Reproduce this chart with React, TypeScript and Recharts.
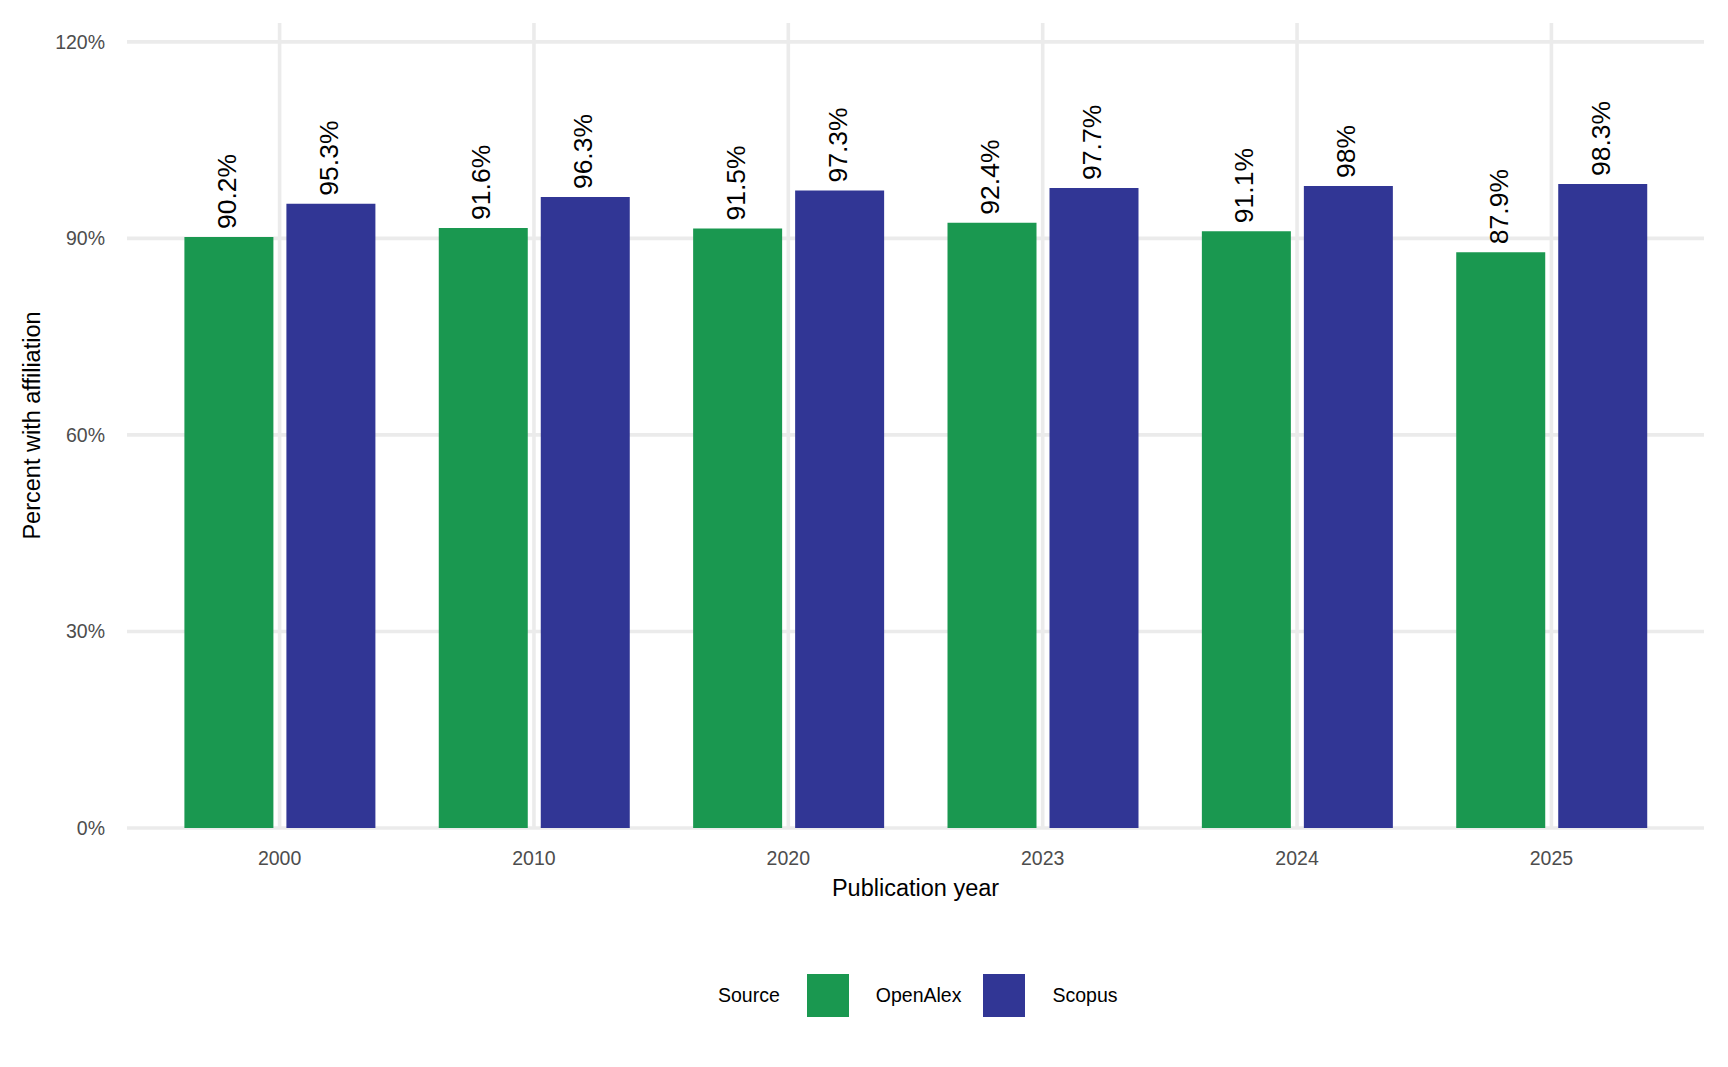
import { Fragment } from 'react'
import { Bar, BarChart, CartesianGrid, Label, LabelList, Legend, XAxis, YAxis } from 'recharts'

const years = ['2000', '2010', '2020', '2023', '2024', '2025']
const openAlex = [90.2, 91.6, 91.5, 92.4, 91.1, 87.9]
const scopus = [95.3, 96.3, 97.3, 97.7, 98, 98.3]
const yTicks = [0, 30, 60, 90, 120]
const sources = ['OpenAlex', 'Scopus']
const colors = ['#1A9850', '#313695']

const data = years.map((year, i) => ({ year, OpenAlex: openAlex[i], Scopus: scopus[i] }))
// ggplot-like headroom above the tallest bar
const yMax = Math.max(...openAlex, ...scopus) * 1.25

const FONT = '"Liberation Sans", Arial, Helvetica, sans-serif'

function BarLabel(props: any) {
  const { x, y, width, value } = props
  const px = Number(x) + Number(width) / 2 + 7
  const py = Number(y) - 8
  return (
    <text
      x={px}
      y={py}
      transform={`rotate(-90 ${px} ${py})`}
      textAnchor="start"
      fontSize={26.5}
      fontFamily={FONT}
      fill="#000"
    >
      {`${value}%`}
    </text>
  )
}

function SourceLegend({ payload }: any) {
  const items = payload ?? []
  return (
    <div
      style={{
        display: 'flex',
        alignItems: 'center',
        height: 43,
        fontFamily: FONT,
        fontSize: 19.5,
        color: '#000',
        whiteSpace: 'nowrap',
      }}
    >
      <span style={{ marginRight: 27 }}>Source</span>
      {items.map((item: any, i: number) => (
        <Fragment key={item.value}>
          <span style={{ display: 'inline-block', width: 42, height: 43, background: item.color, marginRight: 27 }} />
          <span style={{ marginRight: i === 0 ? 22 : 0 }}>{item.value}</span>
        </Fragment>
      ))}
    </div>
  )
}

export default function App() {
  return (
    <div style={{ position: 'absolute', left: 0, top: 0, width: 1728, height: 1067, background: '#fff' }}>
      <BarChart
        width={1728}
        height={1067}
        data={data}
        margin={{ top: 23, right: 24, left: 0, bottom: 0 }}
        barGap={13}
        style={{ fontFamily: FONT }}
      >
        {/* grid only on the breaks, no panel edges */}
        <CartesianGrid stroke="#EBEBEB" strokeWidth={3.6} syncWithTicks />
        <XAxis
          dataKey="year"
          height={239}
          padding={{ left: 25.4, right: 25.4 }}
          axisLine={false}
          tickLine={false}
          tickSize={0}
          tickMargin={23}
          interval={0}
          tick={{ fill: '#4D4D4D', fontSize: 19.5, fontFamily: FONT }}
        >
          <Label
            value="Publication year"
            position="insideTop"
            offset={51}
            style={{ fontSize: 23.5, fill: '#000', fontFamily: FONT }}
          />
        </XAxis>
        <YAxis
          width={127}
          domain={[0, yMax]}
          ticks={yTicks}
          tickFormatter={(v: number) => `${v}%`}
          axisLine={false}
          tickLine={false}
          tickSize={0}
          tickMargin={22}
          tick={{ fill: '#4D4D4D', fontSize: 19.5, fontFamily: FONT }}
        >
          <Label
            value="Percent with affiliation"
            angle={-90}
            position="insideLeft"
            offset={32}
            style={{ textAnchor: 'middle', fontSize: 23.5, fill: '#000', fontFamily: FONT }}
          />
        </YAxis>
        <Legend
          layout="horizontal"
          verticalAlign="middle"
          align="center"
          wrapperStyle={{ left: 718, top: 974, width: 520, height: 43 }}
          content={SourceLegend}
        />
        {sources.map((s, i) => (
          <Bar key={s} dataKey={s} name={s} fill={colors[i]} barSize={89} isAnimationActive={false}>
            <LabelList dataKey={s} content={BarLabel} />
          </Bar>
        ))}
      </BarChart>
    </div>
  )
}
